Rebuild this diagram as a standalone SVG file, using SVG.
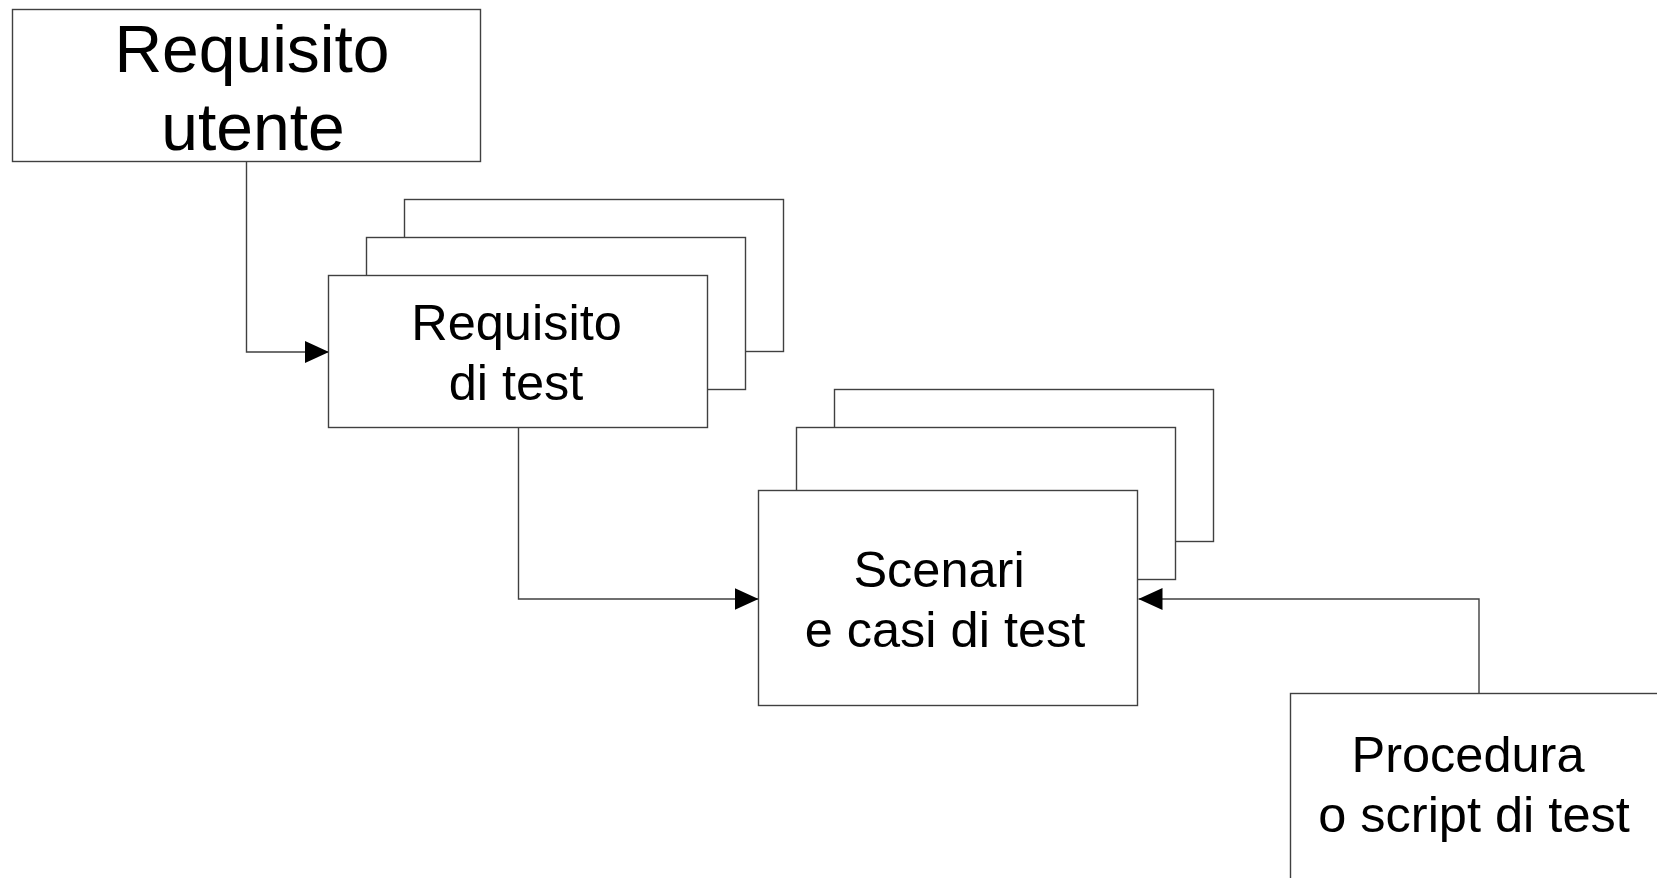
<svg xmlns="http://www.w3.org/2000/svg" width="1657" height="878" viewBox="0 0 1657 878">
  <style>
    .box { fill: #ffffff; stroke: #404040; stroke-width: 1.4; }
    .conn { fill: none; stroke: #404040; stroke-width: 1.4; }
    .lbl { font-family: "Liberation Sans", Arial, sans-serif; fill: #000000; text-anchor: middle; }
    .big { font-size: 66px; }
    .med { font-size: 50.5px; }
  </style>
  <defs>
    <marker id="arrow" markerUnits="userSpaceOnUse" markerWidth="24" markerHeight="22" refX="24" refY="11" orient="auto">
      <path d="M0,0 L24,11 L0,22 z" fill="#000000"/>
    </marker>
  </defs>
  <rect width="1657" height="878" fill="#ffffff"/>

  <g id="connectors">
    <polyline class="conn" points="246.5,161.5 246.5,352 329,352" marker-end="url(#arrow)"/>
    <polyline class="conn" points="518.5,427.5 518.5,599 758.5,599" marker-end="url(#arrow)"/>
    <polyline class="conn" points="1479,694 1479,599 1138.5,599" marker-end="url(#arrow)"/>
  </g>

  <g id="requisito-utente">
    <rect class="box" x="12.5" y="9.5" width="468" height="152"/>
    <text class="lbl big" x="252" y="72">Requisito</text>
    <text class="lbl big" x="253" y="150">utente</text>
  </g>

  <g id="requisito-di-test">
    <rect class="box" x="404.5" y="199.5" width="379" height="152"/>
    <rect class="box" x="366.5" y="237.5" width="379" height="152"/>
    <rect class="box" x="328.5" y="275.5" width="379" height="152"/>
    <text class="lbl med" x="516.5" y="340">Requisito</text>
    <text class="lbl med" x="516" y="400">di test</text>
  </g>

  <g id="scenari-casi-di-test">
    <rect class="box" x="834.5" y="389.5" width="379" height="152"/>
    <rect class="box" x="796.5" y="427.5" width="379" height="152"/>
    <rect class="box" x="758.5" y="490.5" width="379" height="215"/>
    <text class="lbl med" x="939" y="587">Scenari</text>
    <text class="lbl med" x="945" y="647">e casi di test</text>
  </g>

  <g id="procedura-script-di-test">
    <rect class="box" x="1290.5" y="693.5" width="379" height="215"/>
    <text class="lbl med" x="1468" y="772">Procedura</text>
    <text class="lbl med" x="1474" y="832">o script di test</text>
  </g>
</svg>
